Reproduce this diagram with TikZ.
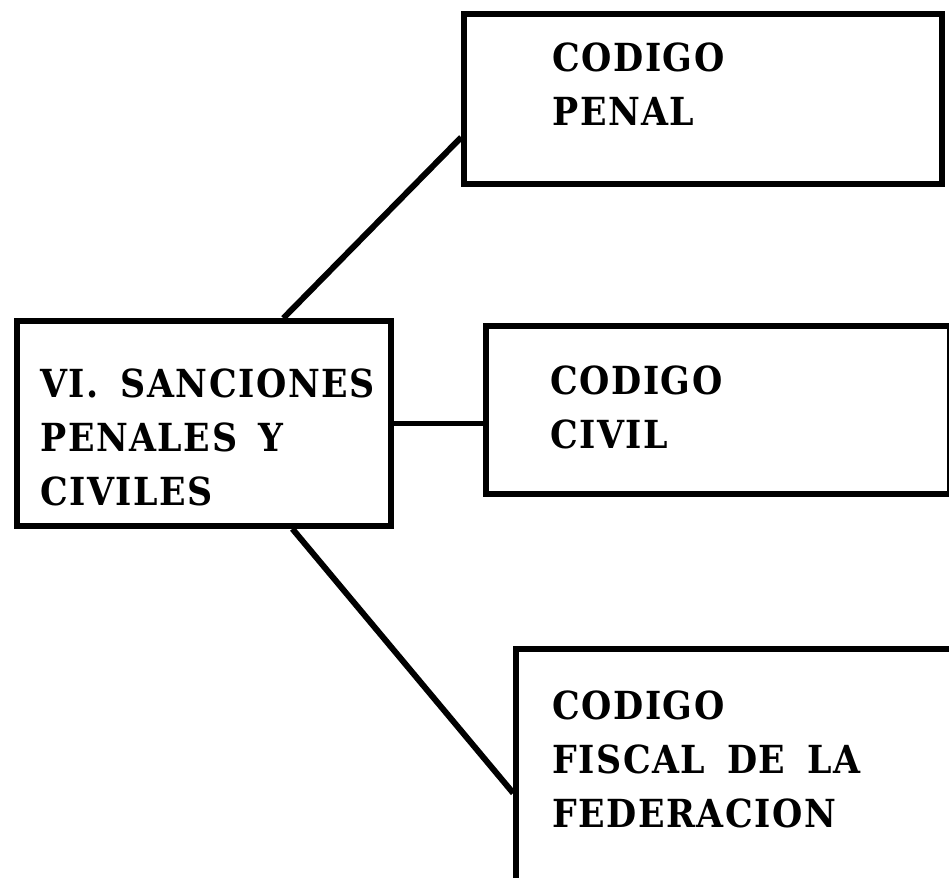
\documentclass[tikz,border=0pt]{standalone}
\usepackage{fontspec}
\newfontfamily\cajafont[FakeStretch=0.9, LetterSpace=4, WordSpace=1.6]{DejaVu Serif}
\usetikzlibrary{positioning,calc}

\begin{document}
\begin{tikzpicture}[x=0.02cm, y=-0.02cm,
    caja/.style={draw, line width=3.2pt, rectangle, inner sep=0pt},
    texto/.style={anchor=north west, align=left, inner sep=0pt,
        font=\cajafont\bfseries\fontsize{22}{31}\selectfont},
    enlace/.style={line width=3.4pt}]
    \useasboundingbox (0,0) rectangle (949,878);

    % Cajas
    \node[caja, minimum width=7.48cm, minimum height=4.1cm] (sanciones) at (204,423.5) {};
    \node[caja, minimum width=9.56cm, minimum height=3.4cm] (penal) at (703,99) {};
    \node[caja, minimum width=9.28cm, minimum height=3.36cm] (civil) at (718,410) {};
    \node[caja, minimum width=8.88cm, minimum height=4.82cm] (fiscal) at (738,769.5) {};

    % Textos
    \node[texto] (tsanciones) at (40,368) {VI. SANCIONES\\PENALES Y\\CIVILES};
    \node[texto] (tpenal) at (552,42) {CODIGO\\PENAL};
    \node[texto] (tcivil) at (550,365) {CODIGO\\CIVIL};
    \node[texto] (tfiscal) at (552,690) {CODIGO\\FISCAL DE LA\\FEDERACION};

    % Enlaces
    \draw[enlace] (sanciones.53.4) -- (penal.189.7);
    \draw[enlace] (sanciones.east) -- (sanciones.east -| civil.west);
    \draw[enlace] (sanciones.-50.7) -- (fiscal.186);
\end{tikzpicture}
\end{document}
